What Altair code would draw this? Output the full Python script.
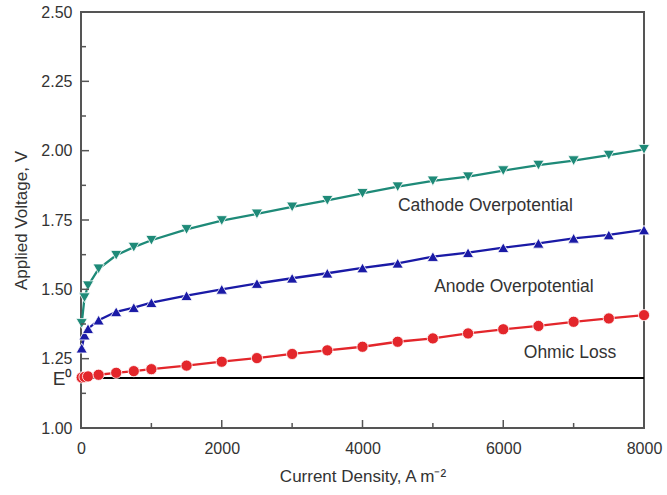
import altair as alt
import pandas as pd

# ---- data ----
current = [10, 50, 100, 250, 500, 750, 1000, 1500, 2000, 2500, 3000, 3500,
           4000, 4500, 5000, 5500, 6000, 6500, 7000, 7500, 8000]
cathode = [1.377, 1.470, 1.513, 1.574, 1.623, 1.652, 1.677, 1.716, 1.748, 1.772,
           1.797, 1.821, 1.846, 1.870, 1.891, 1.906, 1.928, 1.948, 1.964, 1.984, 2.005]
anode = [1.288, 1.335, 1.358, 1.389, 1.419, 1.434, 1.452, 1.477, 1.500, 1.521,
         1.540, 1.558, 1.577, 1.594, 1.618, 1.632, 1.650, 1.666, 1.684, 1.696, 1.714]
ohmic = [1.182, 1.184, 1.186, 1.192, 1.199, 1.205, 1.212, 1.225, 1.239, 1.252,
         1.267, 1.280, 1.293, 1.311, 1.323, 1.341, 1.356, 1.368, 1.383, 1.395, 1.407]
E0 = 1.18

series_names = ["Cathode Overpotential", "Anode Overpotential", "Ohmic Loss"]
series_colors = ["#1e8a78", "#1a1aa6", "#e3262b"]
series_shapes = ["triangle-down", "triangle-up", "circle"]

label_text = ["Cathode Overpotential", "Anode Overpotential", "Ohmic Loss"]
label_x = [5747, 6152, 6948]
label_y = [1.800, 1.509, 1.269]

y_major = [1.0, 1.25, 1.5, 1.75, 2.0, 2.25, 2.5]
y_minor = [1.125, 1.375, 1.625, 1.875, 2.125, 2.375]
x_major = [0, 2000, 4000, 6000, 8000]
x_minor = [1000, 3000, 5000, 7000]

FONT = "Liberation Sans"
W, H = 563, 416

rows = []
for name, vals in zip(series_names, [cathode, anode, ohmic]):
    for c, v in zip(current, vals):
        rows.append({"series": name, "current": c, "voltage": v})
df = pd.DataFrame(rows)

xscale = alt.Scale(domain=[0, 8000], nice=False, zero=False)
yscale = alt.Scale(domain=[1.0, 2.5], nice=False, zero=False)
cscale = alt.Scale(domain=series_names, range=series_colors)
sscale = alt.Scale(domain=series_names, range=series_shapes)

x_enc = alt.X("current:Q", scale=xscale,
              axis=alt.Axis(values=x_major, title="Current Density, A m⁻²",
                            format="d", labelFlush=False,
                            grid=False, domain=False, tickSize=0,
                            labelFont=FONT, labelFontSize=16, labelColor="#333",
                            labelPadding=12, titleFont=FONT, titleFontSize=17,
                            titleFontWeight="normal", titleColor="#333",
                            titlePadding=12))
y_enc = alt.Y("voltage:Q", scale=yscale,
              axis=alt.Axis(values=y_major + [E0], title="Applied Voltage, V",
                            labelExpr="datum.value == 1.18 ? 'E⁰' : format(datum.value, '.2f')",
                            labelFontSize={"condition": {"test": "datum.value == 1.18", "value": 19}, "value": 16},
                            labelFlush=False,
                            grid=False, domain=False, tickSize=0,
                            labelFont=FONT, labelColor="#333",
                            labelPadding=9, titleFont=FONT, titleFontSize=17,
                            titleFontWeight="normal", titleColor="#333",
                            titlePadding=10))

base = alt.Chart(df)

lines = base.mark_line(strokeWidth=2.3).encode(
    x=x_enc, y=y_enc,
    color=alt.Color("series:N", scale=cscale, legend=None),
    detail="series:N",
)
points = base.mark_point(filled=True, size=125, opacity=1, stroke="white",
                         strokeWidth=0.8).encode(
    x=alt.X("current:Q", scale=xscale),
    y=alt.Y("voltage:Q", scale=yscale),
    fill=alt.Fill("series:N", scale=cscale, legend=None),
    shape=alt.Shape("series:N", scale=sscale, legend=None),
)

e0_df = pd.DataFrame({"x0": [0], "x1": [8000], "y": [E0]})
e0_line = alt.Chart(e0_df).mark_rule(color="black", strokeWidth=2).encode(
    x=alt.X("x0:Q", scale=xscale), x2="x1:Q", y=alt.Y("y:Q", scale=yscale))

lab_df = pd.DataFrame({"text": label_text, "x": label_x, "y": label_y})
labels = alt.Chart(lab_df).mark_text(font=FONT, fontSize=17.5, color="#333",
                                     align="center", baseline="middle").encode(
    x=alt.X("x:Q", scale=xscale), y=alt.Y("y:Q", scale=yscale), text="text:N")

# inward ticks
yticks_major = alt.Chart(pd.DataFrame({"v": y_major})).mark_rule(
    color="#555", strokeWidth=1.5).encode(
    y=alt.Y("v:Q", scale=yscale), x=alt.value(0), x2=alt.value(8))
yticks_minor = alt.Chart(pd.DataFrame({"v": y_minor})).mark_rule(
    color="#555", strokeWidth=1.5).encode(
    y=alt.Y("v:Q", scale=yscale), x=alt.value(0), x2=alt.value(5))
xticks_major = alt.Chart(pd.DataFrame({"v": x_major})).mark_rule(
    color="#555", strokeWidth=1.5).encode(
    x=alt.X("v:Q", scale=xscale), y=alt.value(H), y2=alt.value(H - 8))
xticks_minor = alt.Chart(pd.DataFrame({"v": x_minor})).mark_rule(
    color="#555", strokeWidth=1.5).encode(
    x=alt.X("v:Q", scale=xscale), y=alt.value(H), y2=alt.value(H - 5))

chart = alt.layer(
    e0_line, lines, points, labels,
    yticks_major, yticks_minor, xticks_major, xticks_minor,
).properties(
    width=W, height=H,
    autosize="none",
    padding={"left": 81, "top": 12, "right": 667 - 81 - W, "bottom": 495 - 12 - H},
    background="white",
).configure_view(stroke="#555", strokeWidth=2)

chart.save("out.html", embed_options={"renderer": "svg", "actions": False})
